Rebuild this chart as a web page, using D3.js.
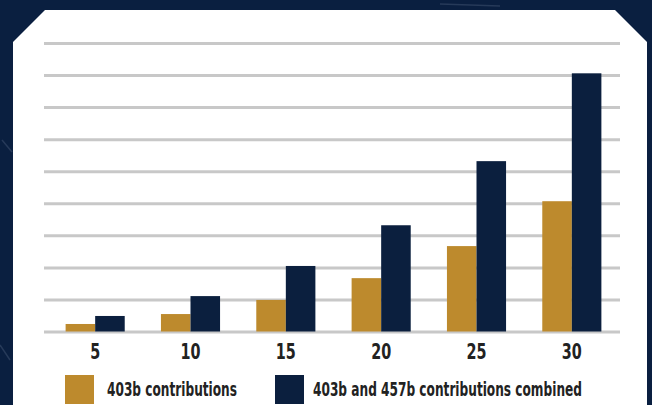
<!DOCTYPE html>
<html>
<head>
<meta charset="utf-8">
<script src="https://cdn.jsdelivr.net/npm/d3@7"></script>
<style>
  html, body { margin: 0; padding: 0; background: #0a1f40; }
  svg { display: block; }
</style>
</head>
<body>
<svg id="chart" width="652" height="405"></svg>
<script>
// ---- data ----
const years = ["5", "10", "15", "20", "25", "30"];
const contrib403b = [25, 56, 100, 168, 268, 408];
const contribCombined = [50, 112, 206, 333, 533, 807];
const gridTicks = [0, 100, 200, 300, 400, 500, 600, 700, 800, 900];
const seriesNames = ["403b contributions", "403b and 457b contributions combined"];

const W = 652, H = 405;
const gold = "#bd8a2d", navy = "#0b1f3e", bg = "#0a1f40";
const svg = d3.select("#chart");

// background
svg.append("rect").attr("width", W).attr("height", H).attr("fill", bg);
// subtle texture streaks
const streaks = [[2, 140, 12, 152], [0, 345, 10, 360], [440, 4, 500, 6]];
svg.selectAll(".streak").data(streaks).join("line")
  .attr("x1", d => d[0]).attr("y1", d => d[1]).attr("x2", d => d[2]).attr("y2", d => d[3])
  .attr("stroke", "#3a4c6a").attr("stroke-width", 1.5).attr("opacity", 0.6);

// white panel with clipped corners
svg.append("path")
  .attr("d", "M13,42 L45,10 L615,10 L647,42 L647,405 L13,405 Z")
  .attr("fill", "#ffffff");

// scales
const y = d3.scaleLinear().domain([0, 900]).range([332, 43.5]);
const x = d3.scaleBand().domain(years).range([47.5, 619.5]).paddingInner(0.38).paddingOuter(0.19);
const xs = d3.scaleBand().domain([0, 1]).range([0, x.bandwidth()]);

// gridlines
svg.append("g").selectAll("line").data(gridTicks).join("line")
  .attr("x1", 44).attr("x2", 620)
  .attr("y1", d => y(d)).attr("y2", d => y(d))
  .attr("stroke", "#c8c8c8").attr("stroke-width", 3);

// bars
const rows = years.map((yr, i) => ({ yr, vals: [contrib403b[i], contribCombined[i]] }));
const colors = [gold, navy];
const grp = svg.append("g").selectAll("g").data(rows).join("g")
  .attr("transform", d => `translate(${x(d.yr)},0)`);
grp.selectAll("rect").data(d => d.vals.map((v, k) => ({ v, k }))).join("rect")
  .attr("x", d => xs(d.k))
  .attr("width", xs.bandwidth())
  .attr("y", d => y(d.v))
  .attr("height", d => y(0) - 0.5 - y(d.v))
  .attr("fill", d => colors[d.k]);

// x axis labels
const xAxis = d3.axisBottom(x).tickSize(0).tickPadding(0);
const ax = svg.append("g").attr("transform", "translate(0,344)").call(xAxis);
ax.select(".domain").remove();
ax.selectAll("text")
  .attr("dy", "0.71em")
  .attr("font-family", "'Liberation Sans Narrow', 'DejaVu Sans Condensed', sans-serif")
  .attr("font-weight", "bold")
  .attr("font-size", 21)
  .attr("fill", "#222222")
  .attr("textLength", d => d.length * 10)
  .attr("lengthAdjust", "spacingAndGlyphs");

// legend
const legend = [
  { x: 65, tx: 107, w: 130 },
  { x: 275, tx: 313, w: 269 }
];
const lg = svg.append("g").selectAll("g").data(legend).join("g");
lg.append("rect")
  .attr("x", d => d.x).attr("y", 375).attr("width", 29).attr("height", 29)
  .attr("fill", (d, i) => colors[i]);
lg.append("g")
  .attr("transform", d => `translate(${d.tx},395.5) scale(1,1.15)`)
  .append("text")
  .attr("x", 0).attr("y", 0)
  .attr("font-family", "'Liberation Sans Narrow', 'DejaVu Sans Condensed', sans-serif")
  .attr("font-weight", "bold").attr("font-size", 16.5)
  .attr("fill", "#222222")
  .attr("textLength", d => d.w).attr("lengthAdjust", "spacingAndGlyphs")
  .text((d, i) => seriesNames[i]);
</script>
</body>
</html>
